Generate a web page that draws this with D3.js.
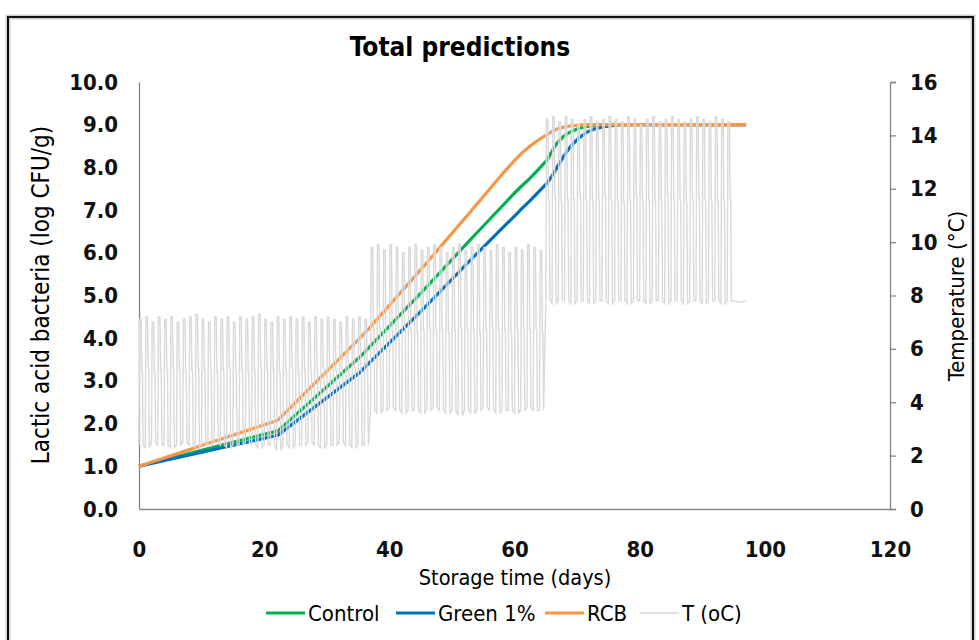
<!DOCTYPE html>
<html>
<head>
<meta charset="utf-8">
<script src="https://cdn.jsdelivr.net/npm/d3@7"></script>
<style>
  body { margin: 0; background: #fff; }
  svg { display: block; }
</style>
</head>
<body>
<svg width="979" height="640"></svg>
<script>
// growth curves (log CFU/g)
var days    = [0, 22.2, 35.3, 37, 45, 52.9, 58.2, 60, 61.2, 62.5, 63.8, 65.2, 66, 66.8, 67.8, 68.9, 70.2, 71.6, 72.8, 74.1, 75.5, 77, 80, 97];
var control = [1.0, 1.83, 3.56, 3.82, 5.05, 6.30, 7.12, 7.40, 7.57, 7.75, 7.95, 8.17, 8.38, 8.57, 8.72, 8.83, 8.91, 8.96, 8.98, 9.0, 9.0, 9.0, 9.0, 9.0];
var green1  = [1.0, 1.73, 3.20, 3.45, 4.62, 5.82, 6.60, 6.86, 7.04, 7.22, 7.42, 7.63, 7.80, 8.00, 8.25, 8.48, 8.68, 8.83, 8.90, 8.95, 8.98, 9.0, 9.0, 9.0];
var rcb     = [1.0, 2.08, 4.00, 4.27, 5.60, 6.95, 7.87, 8.16, 8.34, 8.50, 8.64, 8.77, 8.84, 8.90, 8.94, 8.97, 8.99, 9.0, 9.0, 9.0, 9.0, 9.0, 9.0, 9.0];

// storage temperature, one daily cycle per day from day 0 to day 94
var tempHigh = [
  7.1, 7.2, 7.0, 7.2, 7.1, 7.2, 7.0, 7.1, 7.2, 7.3, 7.1, 7.0, 7.2, 7.1, 7.2, 7.0, 7.2, 7.1, 7.2, 7.3,
  7.1, 7.0, 7.2, 7.1, 7.2, 7.1, 7.2, 7.0, 7.2, 7.1, 7.2, 7.1, 7.0, 7.2, 7.1, 7.2, 7.1,
  9.8, 9.9, 9.7, 9.9, 9.8, 9.6, 9.8, 9.9, 9.7, 9.8, 9.9, 9.8, 9.6, 9.8, 9.9, 9.7, 9.8, 9.9, 9.8, 9.7,
  9.9, 9.8, 9.6, 9.8, 9.7, 9.9, 9.8, 9.7,
  14.6, 14.7, 14.5, 14.7, 14.6, 14.4, 14.6, 14.7, 14.5, 14.6, 14.7, 14.6, 14.5, 14.7, 14.6, 14.4,
  14.6, 14.7, 14.5, 14.6, 14.7, 14.6, 14.5, 14.6, 14.7, 14.6, 14.5, 14.7, 14.6, 14.5
];
var tempMid = [
  5.2, 5.3, 5.1, 5.2, 5.2, 5.3, 5.2, 5.1, 5.2, 5.3, 5.2, 5.2, 5.1, 5.2, 5.3, 5.2, 5.2, 5.1, 5.2, 5.3,
  5.2, 5.2, 5.1, 5.2, 5.3, 5.2, 5.2, 5.1, 5.2, 5.3, 5.2, 5.2, 5.1, 5.2, 5.3, 5.2, 5.2,
  6.7, 6.8, 6.6, 6.7, 6.7, 6.8, 6.7, 6.6, 6.7, 6.8, 6.7, 6.7, 6.6, 6.7, 6.8, 6.7, 6.7, 6.6, 6.7, 6.8,
  6.7, 6.7, 6.6, 6.7, 6.8, 6.7, 6.7, 6.6,
  11.6, 11.7, 11.5, 11.6, 11.6, 11.7, 11.6, 11.5, 11.6, 11.7, 11.6, 11.6, 11.5, 11.6, 11.7, 11.6,
  11.6, 11.5, 11.6, 11.7, 11.6, 11.6, 11.5, 11.6, 11.7, 11.6, 11.6, 11.5, 11.6, 11.6
];
var tempLow = [
  2.4, 2.3, 2.5, 2.4, 2.4, 2.3, 2.4, 2.5, 2.4, 2.3, 2.4, 2.4, 2.5, 2.4, 2.3, 2.4, 2.4, 2.5, 2.4, 2.3,
  2.4, 2.4, 2.2, 2.4, 2.3, 2.4, 2.4, 2.5, 2.4, 2.3, 2.4, 2.4, 2.5, 2.4, 2.3, 2.4, 2.4,
  3.7, 3.6, 3.7, 3.8, 3.7, 3.6, 3.7, 3.7, 3.6, 3.7, 3.8, 3.7, 3.6, 3.7, 3.5, 3.7, 3.6, 3.7, 3.8, 3.7,
  3.6, 3.7, 3.7, 3.6, 3.7, 3.8, 3.7, 3.7,
  7.8, 7.7, 7.8, 7.8, 7.7, 7.8, 7.8, 7.7, 7.8, 7.8, 7.7, 7.8, 7.8, 7.7, 7.8, 7.8,
  7.7, 7.8, 7.8, 7.7, 7.8, 7.8, 7.7, 7.8, 7.8, 7.7, 7.8, 7.8, 7.7, 7.8
];
// share of the day at which each reading is taken: low, high, high, mid, mid, low
var cyclePhase = [0, 0.1, 0.35, 0.45, 0.55, 0.65];
var tailDays = [95, 96, 97];
var tailTemp = [7.8, 7.75, 7.8];

var xTicks = [0, 20, 40, 60, 80, 100, 120];
var yTicks = [0, 1, 2, 3, 4, 5, 6, 7, 8, 9, 10];
var tTicks = [0, 2, 4, 6, 8, 10, 12, 14, 16];

var seriesNames = ["Control", "Green 1%", "RCB", "T (oC)"];
var seriesColors = ["#00b050", "#0070c0", "#f79646", "#d9d9d9"];

var FONT = "'Liberation Sans Narrow', 'DejaVu Sans Condensed', 'Liberation Sans', sans-serif";

var svg = d3.select("svg");

// outer chart frame
svg.append("rect")
    .attr("x", 8).attr("y", 17)
    .attr("width", 965).attr("height", 640)
    .attr("fill", "#fff")
    .attr("stroke", "#d0d0d0")
    .attr("stroke-width", 5);
svg.append("rect")
    .attr("x", 8).attr("y", 17)
    .attr("width", 965).attr("height", 640)
    .attr("fill", "none")
    .attr("stroke", "#111")
    .attr("stroke-width", 2);

var x = d3.scaleLinear().domain([0, 120]).range([139, 890]);
var y = d3.scaleLinear().domain([0, 10]).range([509, 82]);
var yT = d3.scaleLinear().domain([0, 16]).range([509, 82]);

// left axis
var gy = svg.append("g")
    .attr("transform", "translate(139,0)")
    .call(d3.axisLeft(y).tickValues(yTicks).tickSize(0).tickPadding(21).tickFormat(d3.format(".1f")));

// right axis
var gt = svg.append("g")
    .attr("transform", "translate(890,0)")
    .call(d3.axisRight(yT).tickValues(tTicks).tickSize(6).tickPadding(14));

// bottom axis
var gx = svg.append("g")
    .attr("transform", "translate(0,509)")
    .call(d3.axisBottom(x).tickValues(xTicks).tickSize(0).tickPadding(32));

[gy, gt, gx].forEach(function(g) {
  g.select(".domain").attr("stroke", "#868686").attr("stroke-width", 1.3);
  g.selectAll(".tick line").attr("stroke", "#868686").attr("stroke-width", 1.3);
  g.selectAll(".tick text")
    .attr("fill", "#111")
    .style("font-family", FONT)
    .style("font-size", "22px")
    .style("font-weight", "bold");
});

// growth curves
var line = d3.line()
    .x(function(d) { return x(d[0]); })
    .y(function(d) { return y(d[1]); });

var curves = [control, green1, rcb];
curves.forEach(function(vals, i) {
  var pts = days.map(function(t, j) { return [t, vals[j]]; });
  svg.append("path")
      .datum(pts)
      .attr("fill", "none")
      .attr("stroke", seriesColors[i])
      .attr("stroke-width", 3.2)
      .attr("stroke-linejoin", "round")
      .attr("d", line);
});

// temperature trace on the secondary axis
var tempPts = [];
tempHigh.forEach(function(h, d) {
  var levels = [tempLow[d], h, h, tempMid[d], tempMid[d], tempLow[d]];
  cyclePhase.forEach(function(p, k) { tempPts.push([d + p, levels[k]]); });
});
tailDays.forEach(function(t, i) { tempPts.push([t, tailTemp[i]]); });

var tLine = d3.line()
    .x(function(d) { return x(d[0]); })
    .y(function(d) { return yT(d[1]); });

svg.append("path")
    .datum(tempPts)
    .attr("fill", "none")
    .attr("stroke", seriesColors[3])
    .attr("stroke-width", 1.4)
    .attr("d", tLine);

// titles
svg.append("text")
    .attr("x", 460).attr("y", 56)
    .attr("text-anchor", "middle")
    .style("font-family", FONT)
    .style("font-size", "26px")
    .style("font-weight", "bold")
    .text("Total predictions");

svg.append("text")
    .attr("transform", "translate(49,295) rotate(-90)")
    .attr("text-anchor", "middle")
    .style("font-family", FONT)
    .style("font-size", "24px")
    .text("Lactic acid bacteria (log CFU/g)");

svg.append("text")
    .attr("transform", "translate(964,296) rotate(-90)")
    .attr("text-anchor", "middle")
    .style("font-family", FONT)
    .style("font-size", "22px")
    .text("Temperature (°C)");

svg.append("text")
    .attr("x", 515).attr("y", 585)
    .attr("text-anchor", "middle")
    .style("font-family", FONT)
    .style("font-size", "21.5px")
    .text("Storage time (days)");

// legend
var legendX = [266, 396, 545, 640];
var legend = svg.append("g");
seriesNames.forEach(function(name, i) {
  legend.append("line")
      .attr("x1", legendX[i]).attr("x2", legendX[i] + 39)
      .attr("y1", 613).attr("y2", 613)
      .attr("stroke", seriesColors[i])
      .attr("stroke-width", i < 3 ? 3 : 1.4);
  legend.append("text")
      .attr("x", legendX[i] + 42).attr("y", 621)
      .style("font-family", FONT)
      .style("font-size", "22px")
      .text(name);
});
</script>
</body>
</html>
